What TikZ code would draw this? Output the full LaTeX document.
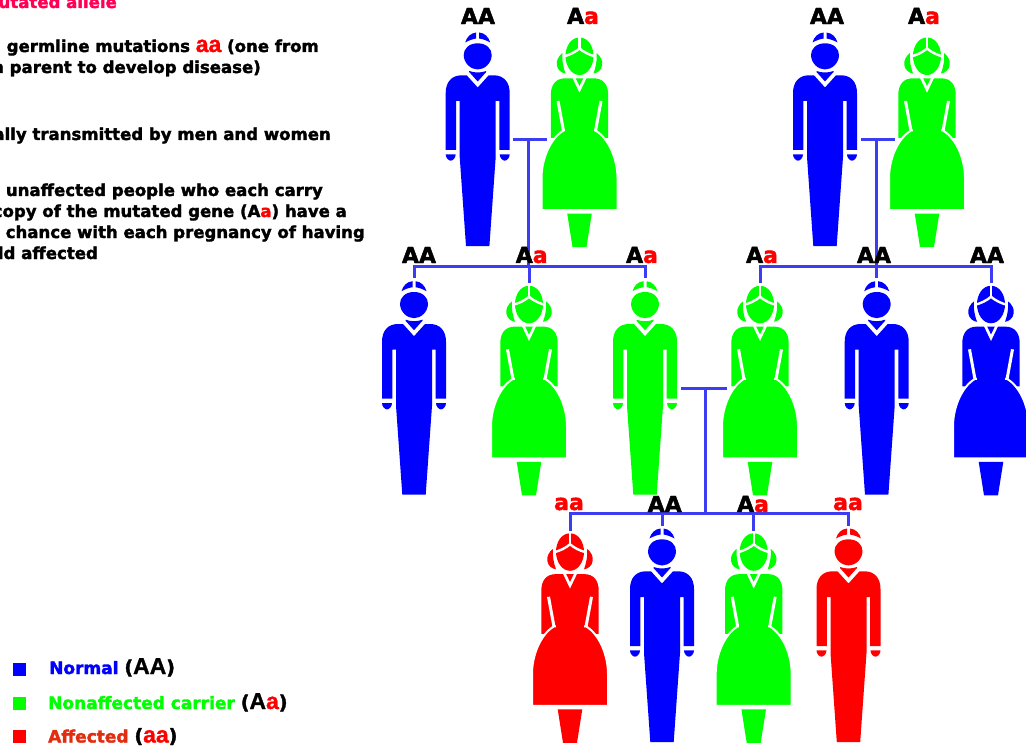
\documentclass[tikz,border=0pt]{standalone}
\usepackage{fontspec}
\setmainfont{DejaVu Sans}[BoldFeatures={FakeBold=2}]
\newfontfamily\lib{Liberation Sans}[BoldFeatures={FakeBold=1.2}]
\definecolor{lineblue}{RGB}{60,60,240}
\definecolor{hotpink}{RGB}{255,0,85}
\definecolor{affred}{RGB}{225,45,15}
\newcommand{\fs}[1]{\fontsize{#1}{#1}\selectfont}
\newcommand{\ra}{\textcolor{red}{a}}
\newcommand{\bigaa}[1]{{\lib\fs{23}\bfseries\textcolor{red}{#1}}}
\newcommand{\biga}[1]{{\lib\fs{23}\bfseries #1}}
\newcommand{\lp}{{\fs{19}(}}
\newcommand{\rp}{{\fs{19})}}
\tikzset{
  conn/.style={draw=lineblue,line width=3pt},
  geno/.style={font=\fs{22}\bfseries,inner sep=0pt,anchor=center},
  para/.style={font=\fs{16.55}\bfseries,inner sep=0pt,anchor=base east},
  legtext/.style={font=\fs{17}\bfseries,inner sep=0pt,anchor=base west},
  gap/.style={draw=white,line width=2.4pt,line cap=butt},
}
\newcommand{\manfig}[4]{%
\begin{scope}[shift={(#2,#3)},fill=#4]
\coordinate (#1) at (0,32);
\fill (-1.5,32.5) .. controls (-7,33) and (-11,37) .. (-12.5,42.5) .. controls (-9,40.5) and (-5,39) .. (-1.5,38.5) -- cycle;
\fill (1.5,32.5) .. controls (7,33) and (11,37) .. (12.5,42.5) .. controls (9,40.5) and (5,39) .. (1.5,38.5) -- cycle;
\fill (0,43.3) .. controls (9,43.3) and (14,49) .. (14,55) .. controls (14,63) and (7,69.5) .. (0,69.5) .. controls (-7,69.5) and (-14,63) .. (-14,55) .. controls (-14,49) and (-9,43.3) .. (0,43.3) -- cycle;
\fill (-8.5,71) .. controls (-3,73) and (3,73) .. (8.5,71) -- (8.5,72) -- (0,81.5) -- (-8.5,72) -- cycle;
\fill (-11,75.3) -- (0,87.5) -- (11,75.3) -- (16,75.3) .. controls (26,75.3) and (32,82) .. (32,93) -- (32,150) -- (21.7,150) -- (21.7,101) -- (18,101) -- (18,157) -- (11.7,246) -- (-11.7,246) -- (-18,157) -- (-18,101) -- (-21.7,101) -- (-21.7,150) -- (-32,150) -- (-32,93) .. controls (-32,82) and (-26,75.3) .. (-16,75.3) -- cycle;
\fill (-32,154.3) -- (-22,154.3) .. controls (-22,158) and (-25,160.7) .. (-27,160.7) .. controls (-29,160.7) and (-32,158) .. (-32,154.3) -- cycle;
\fill (32,154.3) -- (22,154.3) .. controls (22,158) and (25,160.7) .. (27,160.7) .. controls (29,160.7) and (32,158) .. (32,154.3) -- cycle;
\end{scope}}
\newcommand{\womanfig}[4]{%
\begin{scope}[shift={(#2,#3)},fill=#4]
\coordinate (#1) at (0,37.5);
\fill (0,37.5) .. controls (-9,37.5) and (-14,47) .. (-14,56) .. controls (-14,66) and (-8,75) .. (0,75) .. controls (8,75) and (14,66) .. (14,56) .. controls (14,47) and (9,37.5) .. (0,37.5) -- cycle;
\draw[gap] (0,36.5) -- (0,48.5);
\draw[gap] (-16,56.5) .. controls (-10,55) and (-4,52) .. (0,48.5) .. controls (4,52) and (10,55) .. (16,56.5);
\fill (-17,53) .. controls (-21,56) and (-23.5,61) .. (-22.7,65) .. controls (-22,70) and (-18,73) .. (-14,73.5) .. controls (-16,68) and (-18,60) .. (-17,53) -- cycle;
\fill (17,53) .. controls (21,56) and (23.5,61) .. (22.7,65) .. controls (22,70) and (18,73) .. (14,73.5) .. controls (16,68) and (18,60) .. (17,53) -- cycle;
\fill (-3.8,78.3) -- (3.8,78.3) -- (0,86) -- cycle;
\fill (-7,78.3) -- (0,93) -- (7,78.3) -- (14,78.3) .. controls (24,78.3) and (28.7,85) .. (28.7,95) -- (28.7,138) -- (-28.7,138) -- (-28.7,95) .. controls (-28.7,85) and (-24,78.3) .. (-14,78.3) -- cycle;
\draw[draw=white,line width=3pt] (-21.5,101) -- (-16,131);
\draw[draw=white,line width=3pt] (21.5,101) -- (16,131);
\fill[draw=white,line width=2pt] (-16,130.5) -- (16,130.5) .. controls (30,139) and (38,160) .. (38,178) -- (38,210) -- (-38,210) -- (-38,178) .. controls (-38,160) and (-30,139) .. (-16,130.5) -- cycle;
\fill (-14.3,122) -- (14.3,122) -- (14.3,135) -- (-14.3,135) -- cycle;
\fill (-12.3,213.5) -- (12.3,213.5) -- (7,247) -- (-7,247) -- cycle;
\end{scope}}
\begin{document}
\begin{tikzpicture}[x=1pt,y=-1pt]
\useasboundingbox (0,0) rectangle (1026,749);
\clip (0,0) rectangle (1026,749);
% left text
\node[para,text=hotpink] (t0) at (117,8) {mutated allele};
\node[para] (t1) at (319,52) {germline mutations \bigaa{aa} (one from};
\node[para] (t2) at (261,73) {each parent to develop disease)};
\node[para] (t3) at (331,140) {ally transmitted by men and women};
\node[para] (t4) at (323,196) {unaffected people who each carry};
\node[para] (t5) at (347,217) {copy of the mutated gene (A\ra) have a};
\node[para] (t6) at (365,238) {chance with each pregnancy of having};
\node[para] (t7) at (98,259) {ld affected};
% legend
\fill[blue] (13,663) rectangle (26,676);
\fill[green] (13,697) rectangle (26,710);
\fill[red] (13,730) rectangle (26,743);
\node[legtext,text=blue] (l1) at (49,674) {Normal \textcolor{black}{\lp\biga{AA}\rp}};
\node[legtext,text=green] (l2) at (48,709) {Nonaffected carrier \textcolor{black}{\lp\biga{A}\bigaa{a}\rp}};
\node[legtext,text=affred] (l3) at (48,742.5) {Affected \textcolor{black}{\lp\bigaa{aa}\rp}};
% people
\manfig{p1}{477.7}{0}{blue}
\womanfig{p2}{579.5}{0}{green}
\manfig{p3}{825}{0}{blue}
\womanfig{p4}{927}{0}{green}
\manfig{p5}{414}{248.7}{blue}
\womanfig{p6}{529}{248.3}{green}
\manfig{p7}{645}{248.7}{green}
\womanfig{p8}{760}{248.3}{green}
\manfig{p9}{876.7}{248.7}{blue}
\womanfig{p10}{991}{248.3}{blue}
\womanfig{p11}{570}{495.8}{red}
\manfig{p12}{662}{496}{blue}
\womanfig{p13}{753.7}{495.8}{green}
\manfig{p14}{848.5}{496}{red}
% connectors
\coordinate (u1l) at (513,139.3); \coordinate (u1r) at (547.3,139.3);
\coordinate (u2l) at (861,139.3); \coordinate (u2r) at (895,139.3);
\coordinate (u3l) at (681,388); \coordinate (u3r) at (727,388);
\coordinate (u1m) at (528.8,139.3); \coordinate (u2m) at (876.3,139.3); \coordinate (u3m) at (705.7,388);
\coordinate (s1) at (528.8,266.7); \coordinate (s2) at (876.3,266.7); \coordinate (s3) at (705.7,513.8);
\draw[conn] (u1l) -- (u1r);
\draw[conn] (u2l) -- (u2r);
\draw[conn] (u3l) -- (u3r);
\draw[conn] (u1m) -- (s1);
\draw[conn] (u2m) -- (s2);
\draw[conn] (u3m) -- (s3);
\draw[conn,line join=miter] ([yshift=3pt]p5) -- (p5|-s1) -- (p7|-s1) -- ([yshift=3pt]p7);
\draw[conn] ([yshift=3pt]p6) -- (p6|-s1);
\draw[conn,line join=miter] ([yshift=3pt]p8) -- (p8|-s2) -- (p10|-s2) -- ([yshift=3pt]p10);
\draw[conn] ([yshift=3pt]p9) -- (p9|-s2);
\draw[conn,line join=miter] ([yshift=2pt]p11) -- (p11|-s3) -- (p14|-s3) -- ([yshift=2pt]p14);
\draw[conn] ([yshift=2pt]p12) -- (p12|-s3);
\draw[conn] ([yshift=2pt]p13) -- (p13|-s3);
% labels
\node[geno] (g1) at (478,16) {AA};
\node[geno] (g2) at (583,16) {A\ra};
\node[geno] (g3) at (827,16) {AA};
\node[geno] (g4) at (924,16) {A\ra};
\node[geno] (g5) at (419,255) {AA};
\node[geno] (g6) at (531.7,255) {A\ra};
\node[geno] (g7) at (642,255) {A\ra};
\node[geno] (g8) at (762,255) {A\ra};
\node[geno] (g9) at (874,255) {AA};
\node[geno] (g10) at (987,255) {AA};
\node[geno,text=red] (g11) at (569,504) {aa};
\node[geno] (g12) at (664.7,504) {AA};
\node[geno] (g13) at (753,504) {A\ra};
\node[geno,text=red] (g14) at (848,504) {aa};
\end{tikzpicture}
\end{document}
